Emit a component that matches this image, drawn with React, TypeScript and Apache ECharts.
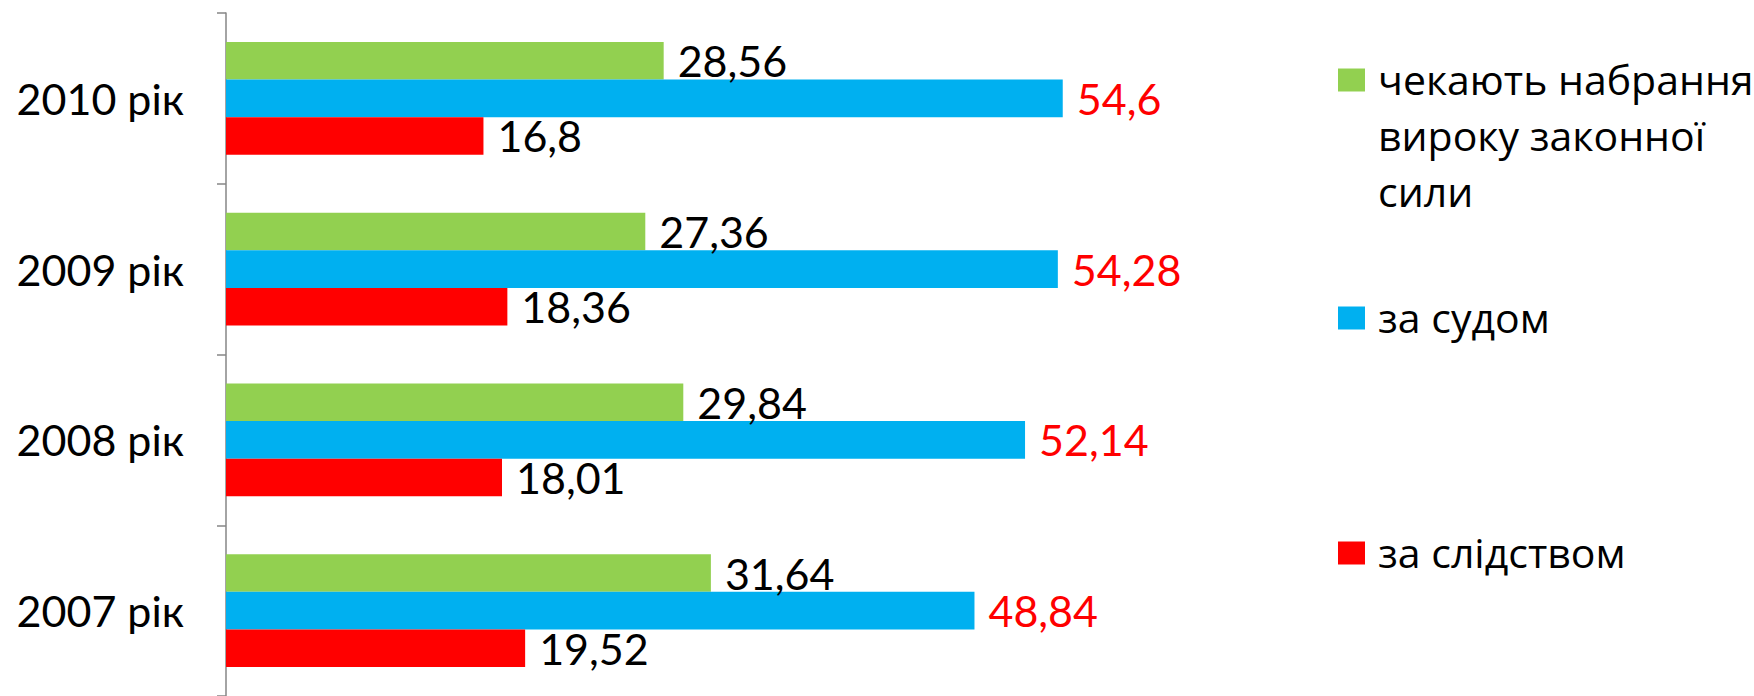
import React, { useEffect, useRef } from "react";
import * as echarts from "echarts";

const categories = ["2007 рік", "2008 рік", "2009 рік", "2010 рік"];
const awaiting = [31.64, 29.84, 27.36, 28.56];
const court = [48.84, 52.14, 54.28, 54.6];
const investigation = [19.52, 18.01, 18.36, 16.8];
const seriesNames = ["чекають набрання вироку законної сили", "за судом", "за слідством"];
const legendLines = [["чекають набрання", "вироку законної", "сили"], ["за судом"], ["за слідством"]];
const colors = ["#92D050", "#00B0F0", "#FF0000"];
const labelColors = ["#000000", "#FF0000", "#000000"];

const fmt = (p: any) => String(p.value).replace(".", ",");

export default function App() {
  const ref = useRef<HTMLDivElement>(null);
  useEffect(() => {
    if (!ref.current) return;
    const chart = echarts.init(ref.current, null, { renderer: "svg" });
    const data = [awaiting, court, investigation];
    const legendY = [80, 318, 553];
    const graphic: any[] = [];
    legendLines.forEach((lines, i) => {
      graphic.push({
        type: "rect",
        left: 1338,
        top: legendY[i] - 11.5,
        shape: { width: 27, height: 23 },
        style: { fill: colors[i] },
      });
      graphic.push({
        type: "text",
        left: 1378,
        top: legendY[i] - 29,
        style: {
          text: lines.join("\n"),
          font: "41px 'Open Sans'",
          fill: "#000",
          lineHeight: 56,
        },
      });
    });
    chart.setOption({
      animation: false,
      backgroundColor: "#ffffff",
      grid: { left: 226, top: 13, width: 919.5, height: 683, containLabel: false },
      xAxis: { type: "value", min: 0, max: 60, show: false },
      yAxis: {
        type: "category",
        data: categories,
        axisLine: { show: true, lineStyle: { color: "#868686", width: 1.5 } },
        axisTick: { show: true, length: 9, lineStyle: { color: "#868686", width: 1.5 } },
        axisLabel: { color: "#000", fontFamily: "Lato", fontSize: 43, margin: 42 },
      },
      series: data.map((d, i) => ({
        name: seriesNames[i],
        type: "bar",
        data: d,
        barGap: "0%",
        barCategoryGap: "34%",
        itemStyle: { color: colors[i] },
        label: {
          show: true,
          position: "right",
          distance: 14,
          formatter: fmt,
          color: labelColors[i],
          fontFamily: "Lato",
          fontSize: 43,
        },
      })),
      graphic,
    });
    return () => chart.dispose();
  }, []);
  return (
    <div
      ref={ref}
      style={{ position: "fixed", left: 0, top: 0, width: 1754, height: 696, background: "#fff" }}
    />
  );
}
